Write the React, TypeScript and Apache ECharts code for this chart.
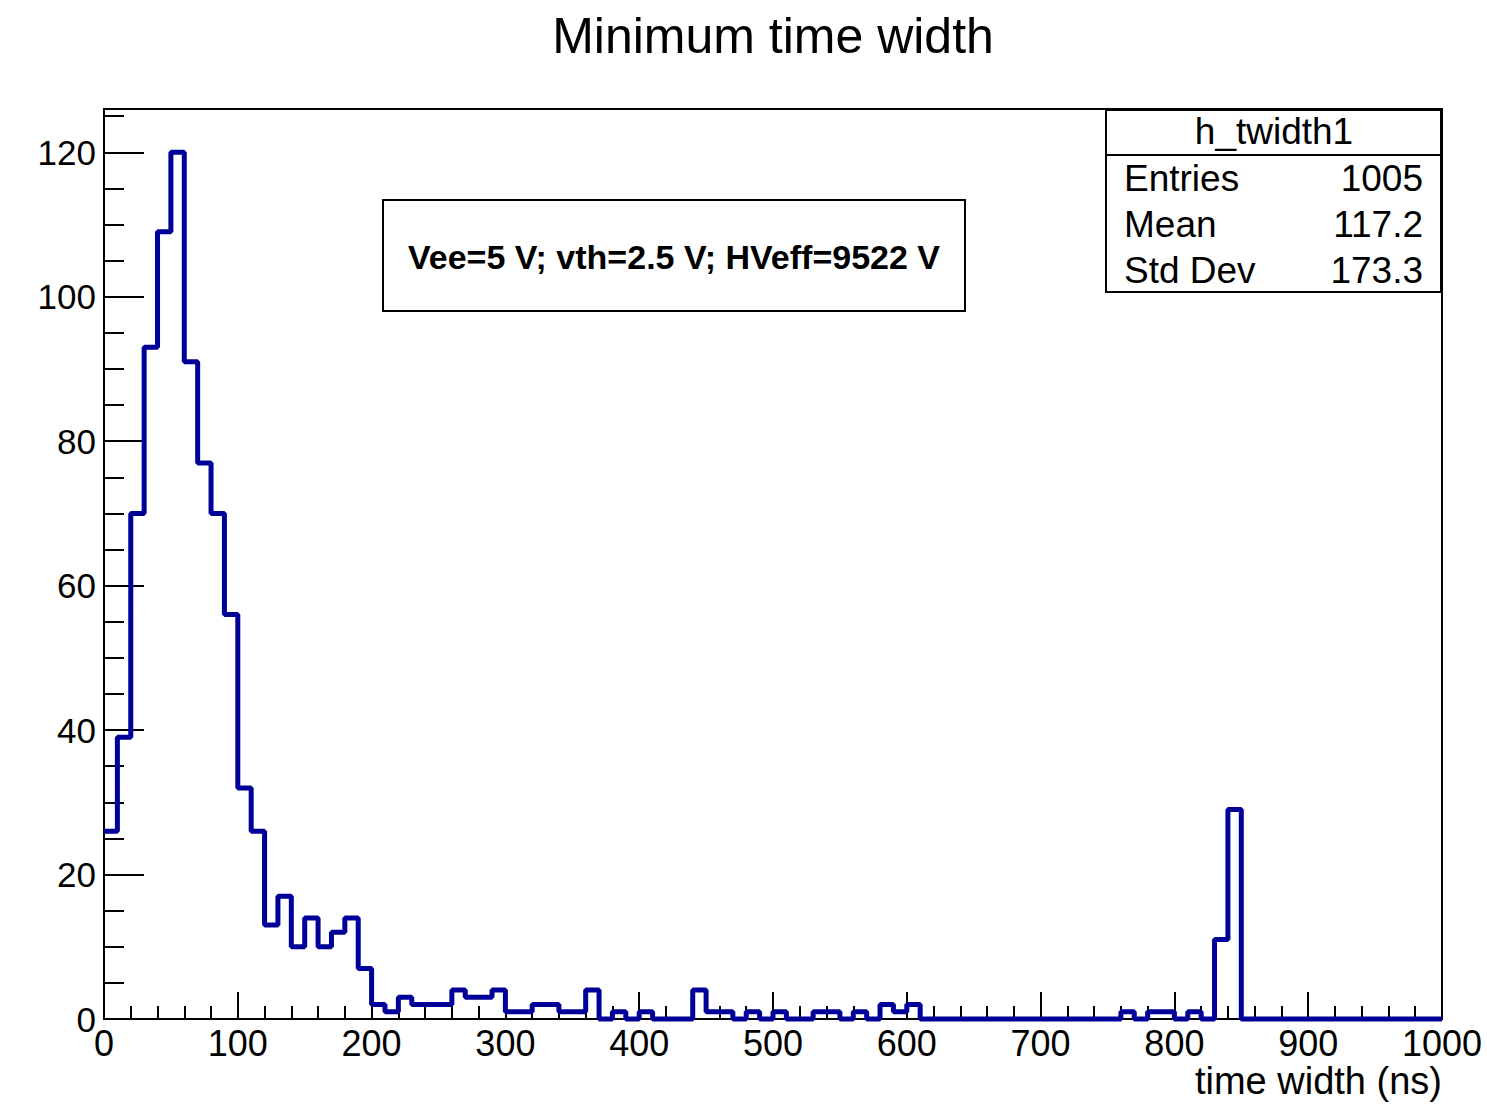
import React, { useEffect, useRef } from "react";
import * as echarts from "echarts";

// ---- data ----
const chartTitle = "Minimum time width";
const xAxisTitle = "time width (ns)";
const binLow = 0;
const binWidth = 10;
const xMax = 1000;
const yMax = 126;
const binValues = [
  26, 39, 70, 93, 109, 120, 91, 77, 70, 56,
  32, 26, 13, 17, 10, 14, 10, 12, 14, 7,
  2, 1, 3, 2, 2, 2, 4, 3, 3, 4,
  1, 1, 2, 2, 1, 1, 4, 0, 1, 0,
  1, 0, 0, 0, 4, 1, 1, 0, 1, 0,
  1, 0, 0, 1, 1, 0, 1, 0, 2, 1,
  2, 0, 0, 0, 0, 0, 0, 0, 0, 0,
  0, 0, 0, 0, 0, 0, 1, 0, 1, 1,
  0, 1, 0, 11, 29, 0, 0, 0, 0, 0,
  0, 0, 0, 0, 0, 0, 0, 0, 0, 0,
];
const statsName = "h_twidth1";
const statsLabels = ["Entries", "Mean", "Std Dev"];
const statsValues = ["1005", "117.2", "173.3"];
const infoText = "Vee=5 V; vth=2.5 V; HVeff=9522 V";

const FONT = "'Liberation Sans', Arial, Helvetica, sans-serif";

export default function App() {
  const ref = useRef<HTMLDivElement>(null);

  useEffect(() => {
    if (!ref.current) return;
    const chart = echarts.init(ref.current, null, { renderer: "svg" });

    const stepData: [number, number][] = binValues.map((v, i) => [binLow + i * binWidth, v]);
    stepData.push([xMax, binValues[binValues.length - 1]]);

    const G = { left: 104, top: 109, width: 1338, height: 910 };

    const statsRows: any[] = [];
    statsLabels.forEach((lab, i) => {
      const y = 178 + i * 46;
      statsRows.push({
        type: "text",
        x: 1124,
        y,
        style: { text: lab, font: `37px ${FONT}`, fill: "#000", textAlign: "left", textVerticalAlign: "middle" },
      });
      statsRows.push({
        type: "text",
        x: 1423,
        y,
        style: { text: statsValues[i], font: `37px ${FONT}`, fill: "#000", textAlign: "right", textVerticalAlign: "middle" },
      });
    });

    chart.setOption({
      animation: false,
      backgroundColor: "#fff",
      grid: {
        left: G.left,
        top: G.top,
        width: G.width,
        height: G.height,
        show: true,
        borderColor: "#000",
        borderWidth: 2,
        backgroundColor: "transparent",
      },
      xAxis: {
        type: "value",
        min: 0,
        max: xMax,
        interval: 100,
        axisLine: { show: true, lineStyle: { color: "#000", width: 2 } },
        axisTick: { show: true, inside: true, length: 27, lineStyle: { color: "#000", width: 2 } },
        minorTick: { show: true, splitNumber: 5, length: 13, lineStyle: { color: "#000", width: 2 } },
        axisLabel: {
          color: "#000",
          fontSize: 36,
          fontFamily: FONT,
          margin: 6,
          formatter: (v: number) => String(v),
        },
        splitLine: { show: false },
      },
      yAxis: [
        {
          type: "value",
          min: 0,
          max: yMax,
          interval: 20,
          axisLine: { show: true, lineStyle: { color: "#000", width: 2 } },
          axisTick: { show: true, inside: true, length: 40, lineStyle: { color: "#000", width: 2 } },
          axisLabel: {
            color: "#000",
            fontSize: 35,
            fontFamily: FONT,
            margin: 8,
            showMaxLabel: false,
            formatter: (v: number) => String(v),
          },
          splitLine: { show: false },
        },
        {
          type: "value",
          min: 0,
          max: yMax,
          interval: 5,
          position: "left",
          axisLine: { show: false },
          axisTick: { show: true, inside: true, length: 20, lineStyle: { color: "#000", width: 2 } },
          axisLabel: { show: false },
          splitLine: { show: false },
        },
      ],
      series: [
        {
          type: "line",
          data: stepData,
          step: "end",
          symbol: "none",
          clip: false,
          yAxisIndex: 0,
          lineStyle: { color: "#000099", width: 5 },
          z: 5,
        },
      ],
      graphic: [
        {
          type: "text",
          x: 773,
          y: 36,
          style: { text: chartTitle, font: `50px ${FONT}`, fill: "#000", textAlign: "center", textVerticalAlign: "middle" },
        },
        {
          type: "text",
          x: 1442,
          y: 1081,
          style: { text: xAxisTitle, font: `38px ${FONT}`, fill: "#000", textAlign: "right", textVerticalAlign: "middle" },
        },
        {
          type: "rect",
          shape: { x: 383, y: 200, width: 582, height: 111 },
          style: { fill: "#fff", stroke: "#000", lineWidth: 2 },
          z: 10,
        },
        {
          type: "text",
          x: 674,
          y: 257,
          z: 11,
          style: { text: infoText, font: `bold 34px ${FONT}`, fill: "#000", textAlign: "center", textVerticalAlign: "middle" },
        },
        {
          type: "rect",
          shape: { x: 1106, y: 110, width: 335, height: 182 },
          style: { fill: "#fff", stroke: "#000", lineWidth: 2 },
          z: 10,
        },
        {
          type: "line",
          shape: { x1: 1106, y1: 155, x2: 1441, y2: 155 },
          style: { stroke: "#000", lineWidth: 2 },
          z: 11,
        },
        {
          type: "text",
          x: 1274,
          y: 131,
          z: 11,
          style: { text: statsName, font: `37px ${FONT}`, fill: "#000", textAlign: "center", textVerticalAlign: "middle" },
        },
        ...statsRows.map((r) => ({ ...r, z: 11 })),
      ],
    });

    return () => chart.dispose();
  }, []);

  return (
    <div
      ref={ref}
      style={{ position: "fixed", left: 0, top: 0, width: 1487, height: 1105, background: "#fff" }}
    />
  );
}
